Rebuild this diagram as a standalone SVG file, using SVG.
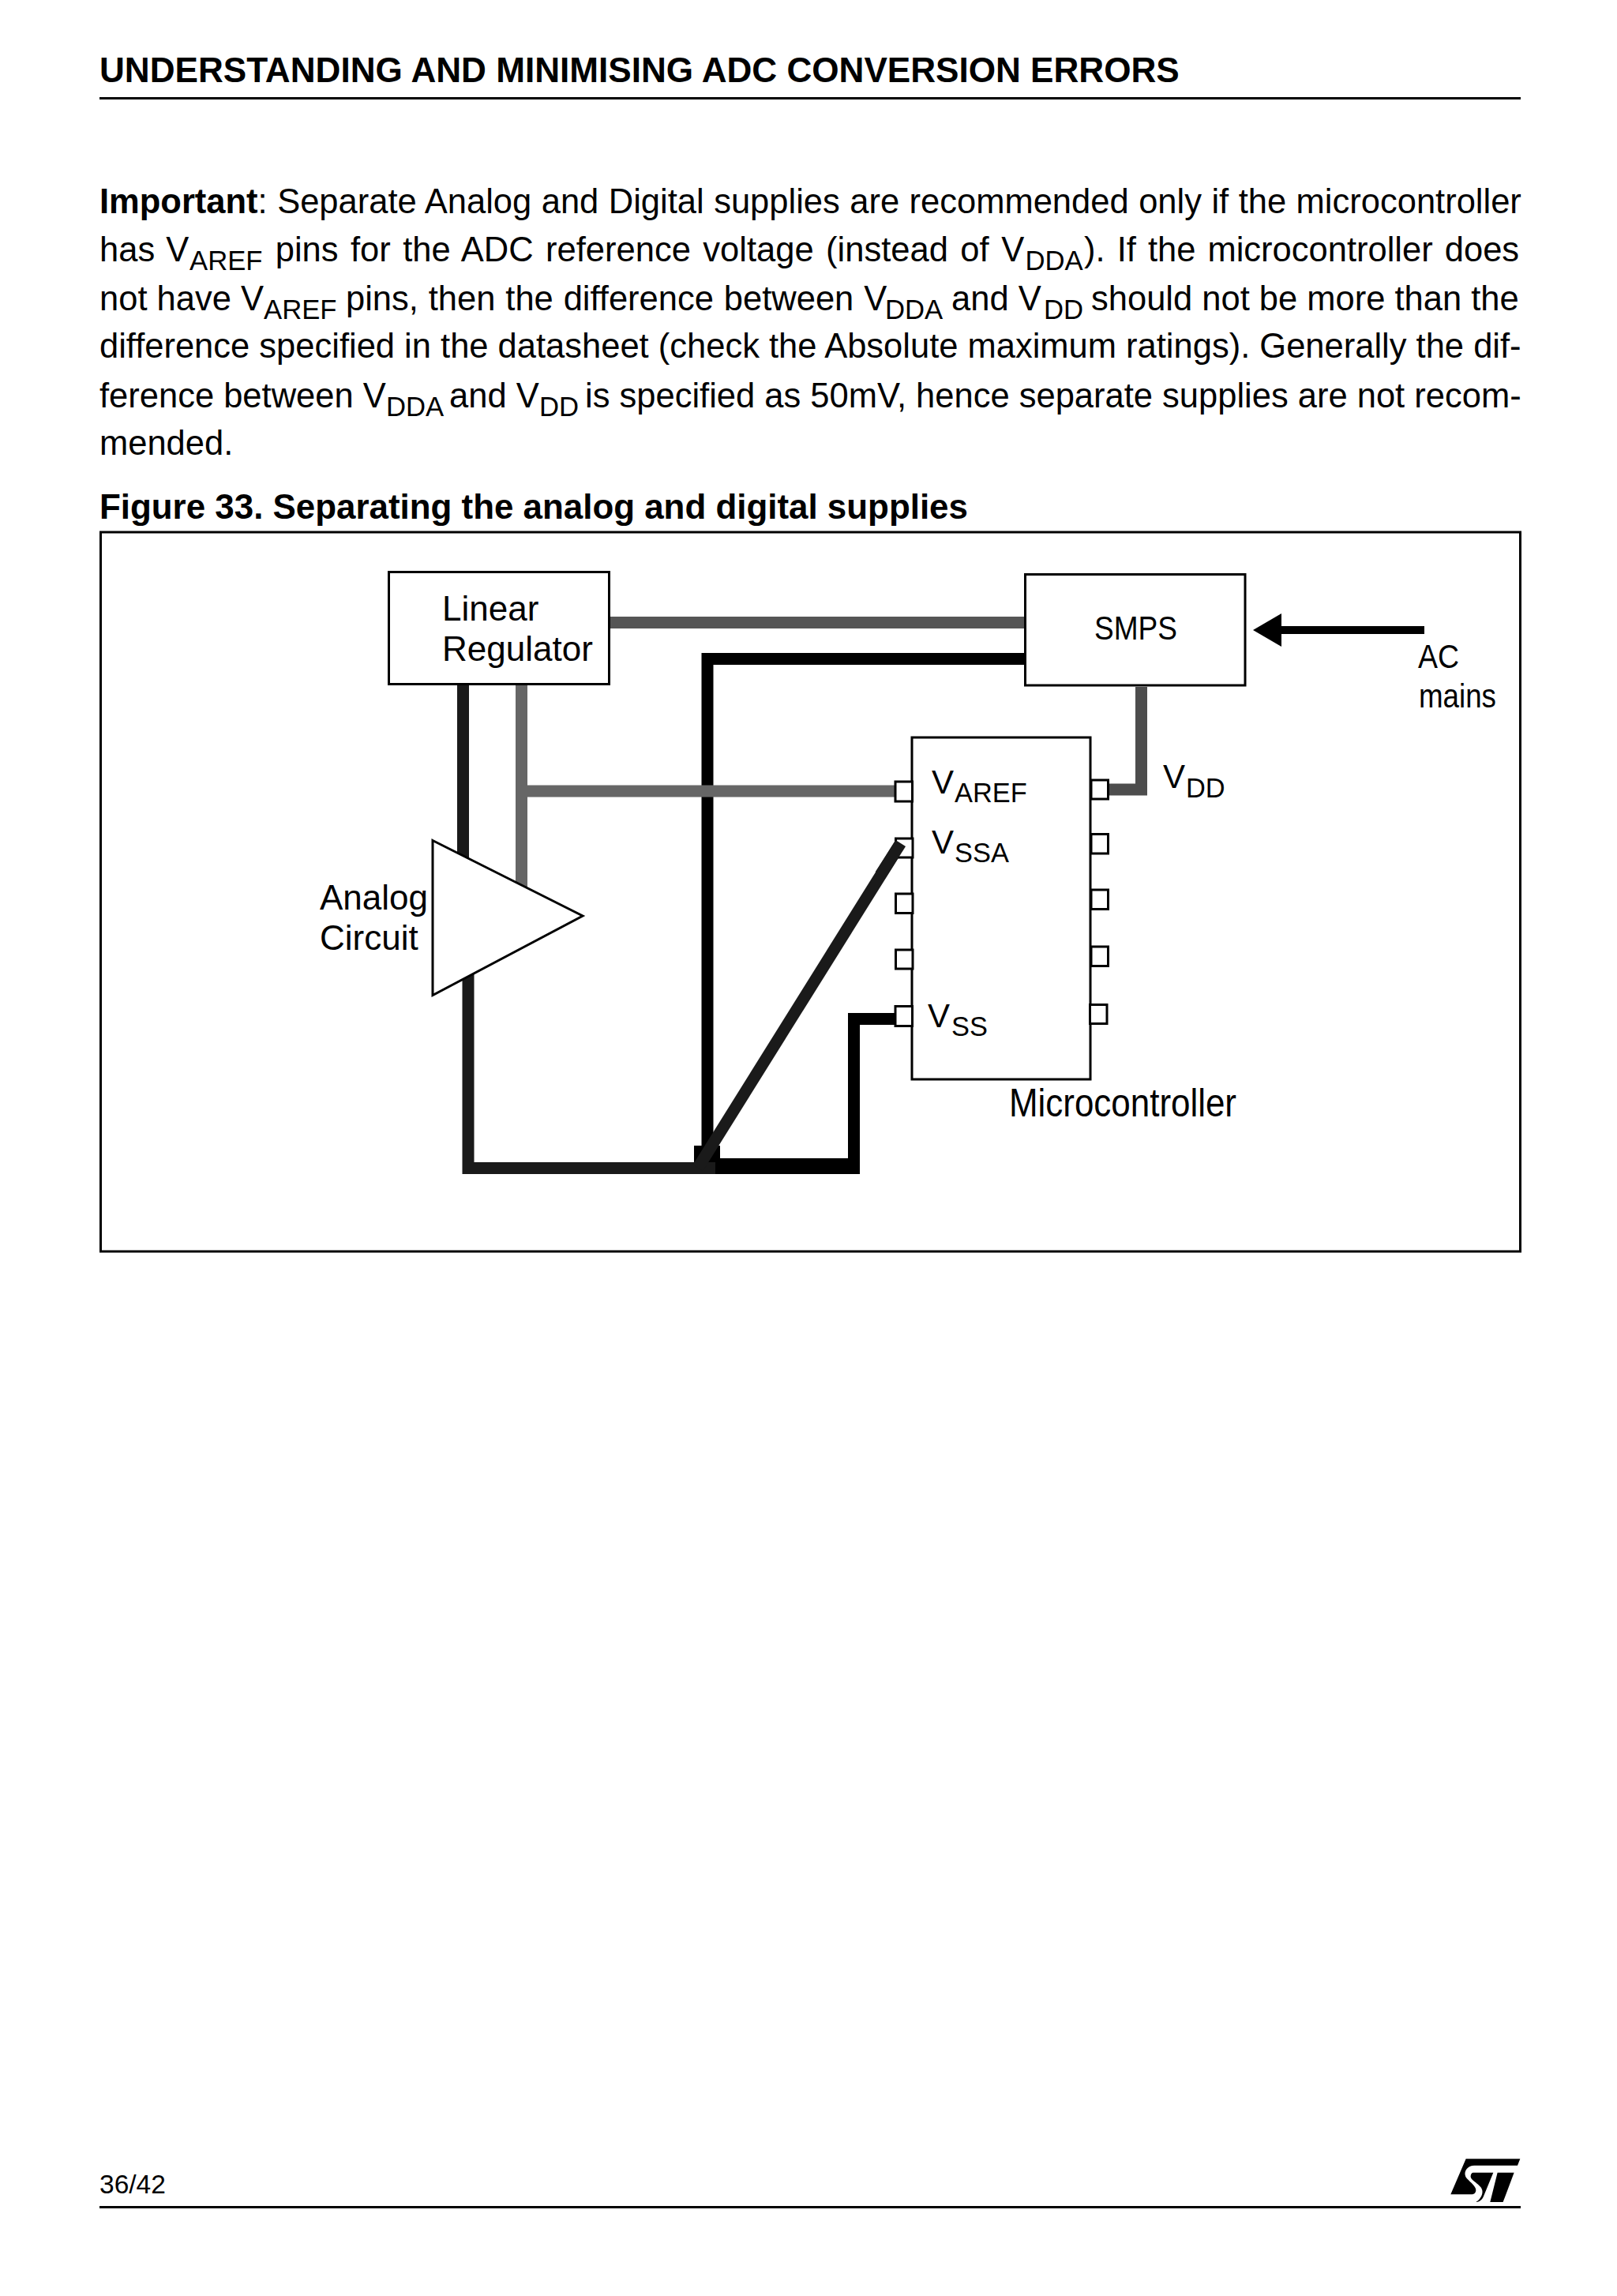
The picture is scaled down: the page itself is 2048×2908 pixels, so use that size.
<svg xmlns="http://www.w3.org/2000/svg" width="2048" height="2908" viewBox="0 0 2048 2908">
<style>
text{font-family:"Liberation Sans",Arial,sans-serif;fill:#000}
.b{font-size:43.5px}
.bb{font-weight:bold}
.s{font-size:34.7px}
.l{font-size:44px}
.n{font-size:42px}
.ns{font-size:34.4px}
.box{fill:#fff;stroke:#000;stroke-width:3}
.w{fill:none;stroke-linejoin:miter;stroke-width:15}
.pin{fill:#fff;stroke:#000;stroke-width:3}
</style>
<defs>
<marker id="ah" markerUnits="userSpaceOnUse" markerWidth="37" markerHeight="42" refX="0" refY="21" orient="auto"><path d="M0,0L36,21L0,42Z" fill="#000"/></marker>
</defs>
<rect width="2048" height="2908" fill="#fff"/>
<g id="page-text">
<text x="126" y="103.5" class="b bb" id="header" style="font-size:44.1px">UNDERSTANDING AND MINIMISING ADC CONVERSION ERRORS</text>
<rect x="126" y="123" width="1800" height="3"/>
<text y="270" class="b" word-spacing="0.4"><tspan x="126" class="bb">Important</tspan>: Separate Analog and Digital supplies are recommended only if the microcontroller</text>
<text y="331" class="b"><tspan x="126" word-spacing="2">has V</tspan><tspan x="240" dy="11" class="s">AREF</tspan><tspan x="348.7" dy="-11" word-spacing="3.4">pins for the ADC reference voltage (instead of V</tspan><tspan x="1298.5" dy="11" class="s">DDA</tspan><tspan x="1373" dy="-11" word-spacing="3">). If the microcontroller does</tspan></text>
<text y="393" class="b"><tspan x="126">not have V</tspan><tspan x="334" dy="11" class="s">AREF</tspan><tspan x="438" dy="-11" word-spacing="0.8">pins, then the difference between V</tspan><tspan x="1121" dy="11" class="s">DDA</tspan><tspan x="1205" dy="-11">and V</tspan><tspan x="1322" dy="11" class="s">DD</tspan><tspan x="1382" dy="-11">should not be more than the</tspan></text>
<text x="126" y="453" class="b">difference specified in the datasheet (check the Absolute maximum ratings). Generally the dif-</text>
<text y="515.5" class="b"><tspan x="126">ference between V</tspan><tspan x="489" dy="11" class="s">DDA</tspan><tspan x="569" dy="-11">and V</tspan><tspan x="683" dy="11" class="s">DD</tspan><tspan x="741" dy="-11">is specified as 50mV, hence separate supplies are not recom-</tspan></text>
<text x="126" y="576" class="b">mended.</text>
<text x="126" y="657" class="b bb" style="font-size:43.9px">Figure 33. Separating the analog and digital supplies</text>
<text x="126" y="2778" style="font-size:33.5px">36/42</text>
<rect x="126" y="2794" width="1800" height="3"/>
</g>
<g id="st-logo" transform="translate(1780,2700) scale(0.3333)">
<path d="M230,103L436,103L426,128L262,128C235,128 222,150 228,168C232,182 270,205 268,222C267,232 262,238 250,238L172,238Z"/>
<path d="M258,155L334,155L297,245C292,258 280,267 268,267C280,262 296,240 292,222C288,200 245,185 248,168C249,160 252,155 258,155Z"/>
<path d="M350,155L413,155L371,267L322,267Z"/>
</g>
<rect id="frame" x="127.5" y="674" width="1798" height="911" fill="none" stroke="#000" stroke-width="3"/>
<g id="connectors">
<path class="w" stroke="#555" d="M771,788.5H1299"/>
<path class="w" stroke="#000" d="M896,1460V834.5H1299"/>
<rect x="879" y="1451" width="33" height="36" fill="#000"/>
<rect x="900" y="1467" width="189" height="20" fill="#000"/>
<path class="w" stroke="#000" d="M1081.5,1475V1290.5H1134"/>
<path class="w" stroke="#1a1a1a" d="M586.5,866V1092"/>
<path class="w" stroke="#666" d="M660.5,866V1128"/>
<path class="w" stroke="#666" d="M660.5,1002H1134"/>
<path class="w" stroke="#1a1a1a" d="M593,1230V1479.5H906"/>
<path class="w" stroke="#1a1a1a" d="M884,1479L1140.7,1068"/>
<path class="w" stroke="#4d4d4d" d="M1445.5,870V1000H1403"/>
<path fill="none" stroke="#000" stroke-width="10" marker-end="url(#ah)" d="M1804,798H1623"/>
</g>
<g id="linear-regulator">
<rect class="box" x="492.5" y="724.5" width="279" height="142"/>
<text x="560" y="786" class="l">Linear</text>
<text x="560" y="837" class="l">Regulator</text>
</g>
<g id="analog-circuit">
<path class="box" d="M548,1064.5L738,1160L548,1260.5Z"/>
<text x="405" y="1152" class="l">Analog</text>
<text x="405" y="1203" class="l">Circuit</text>
</g>
<g id="smps">
<rect class="box" x="1298.5" y="727.5" width="278.5" height="140.5"/>
<text x="1386" y="810" class="n" textLength="105" lengthAdjust="spacingAndGlyphs">SMPS</text>
</g>
<g id="ac-mains">
<text x="1796" y="846" class="n" textLength="52" lengthAdjust="spacingAndGlyphs">AC</text>
<text x="1797" y="896" class="n" textLength="98" lengthAdjust="spacingAndGlyphs">mains</text>
</g>
<g id="microcontroller">
<rect class="box" x="1155" y="934" width="226" height="433"/>
<rect class="pin" x="1134" y="990" width="21.5" height="25"/>
<rect class="pin" x="1134.5" y="1062" width="21.5" height="24"/>
<rect class="pin" x="1134.5" y="1132" width="21.5" height="24.5"/>
<rect class="pin" x="1134.5" y="1203" width="21.5" height="24"/>
<rect class="pin" x="1134" y="1274.5" width="21.5" height="25"/>
<rect class="pin" x="1382" y="988" width="21.5" height="24"/>
<rect class="pin" x="1382" y="1056.5" width="21.5" height="24.5"/>
<rect class="pin" x="1382" y="1127" width="21.5" height="24.5"/>
<rect class="pin" x="1382" y="1199" width="21.5" height="24.5"/>
<rect class="pin" x="1380.5" y="1272.5" width="21.5" height="24"/>
<path class="w" stroke="#1a1a1a" d="M1115,1108.4L1140.7,1068"/>
<text x="1180" y="1004.5" class="n">V</text><text x="1209" y="1016" class="ns">AREF</text>
<text x="1180" y="1080.5" class="n">V</text><text x="1209" y="1092" class="ns">SSA</text>
<text x="1175" y="1301" class="n">V</text><text x="1205" y="1312" class="ns">SS</text>
<text x="1473" y="998" class="n">V</text><text x="1502" y="1010" class="ns">DD</text>
<text x="1278" y="1414" style="font-size:50px" textLength="288" lengthAdjust="spacingAndGlyphs">Microcontroller</text>
</g>
</svg>
